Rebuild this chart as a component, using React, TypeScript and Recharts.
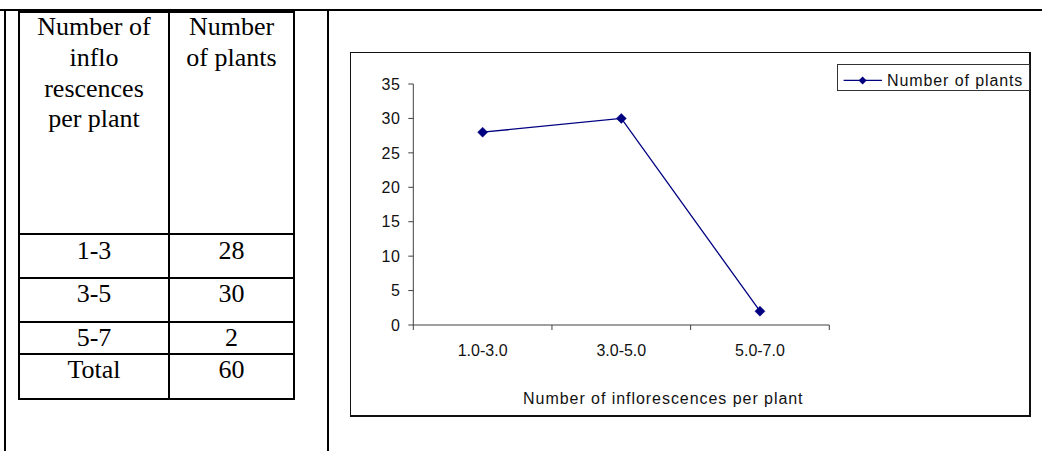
import { LineChart, Line, XAxis, YAxis, Legend } from "recharts"

// inflorescence classes as printed under the chart and in the table
const categories = ["1.0-3.0", "3.0-5.0", "5.0-7.0"]
const tableRanges = ["1-3", "3-5", "5-7"]
const plantCounts = [28, 30, 2]
const yTicks = [0, 5, 10, 15, 20, 25, 30, 35]
const xTicks = [0, 0.5, 1, 1.5, 2, 2.5, 3]

const seriesName = "Number of plants"
const xTitle = "Number of inflorescences per plant"
const headerLeft = ["Number of", "inflo", "rescences", "per plant"]
const headerRight = ["Number", "of plants"]

const NAVY = "#000080"
const AXIS = "#404040"
const SANS = "'Liberation Sans', Arial, sans-serif"
const SERIF = "'Liberation Serif', 'Times New Roman', serif"

const chartData = categories.map((label, i) => ({ pos: i + 0.5, label, count: plantCounts[i] }))
const total = plantCounts.reduce((a, b) => a + b, 0)

function diamond(cx: number, cy: number, r: number) {
  return `M${cx},${cy - r}L${cx + r},${cy}L${cx},${cy + r}L${cx - r},${cy}Z`
}

function Dot(props: any) {
  const { cx, cy, index } = props
  return <path key={`d-${index}`} d={diamond(cx, cy, 5)} fill={NAVY} stroke={NAVY} strokeWidth={0.5} />
}

// integer positions are category boundaries (tick marks), half positions carry the labels
function XTick(props: any) {
  const { x, y, payload } = props
  const v = payload.value as number
  if (Number.isInteger(v)) {
    return <line x1={x} y1={y} x2={x} y2={y + 5} stroke={AXIS} strokeWidth={1} />
  }
  return (
    <text x={x} y={y + 30.5} textAnchor="middle" fontSize={16} fontFamily={SANS} fill="#111">
      {categories[Math.floor(v)]}
    </text>
  )
}

function LegendBox() {
  return (
    <svg width={193} height={27} style={{ display: "block" }}>
      <rect x={0.5} y={0.5} width={192} height={26} fill="#fff" stroke="#333" strokeWidth={1} />
      <line x1={6.6} y1={16.4} x2={45} y2={16.4} stroke={NAVY} strokeWidth={1.3} />
      <path d={diamond(25.6, 16.4, 4)} fill={NAVY} />
      <text x={50} y={21.7} fontSize={16} fontFamily={SANS} letterSpacing={0.9} fill="#111">
        {seriesName}
      </text>
    </svg>
  )
}

function Rule({ x, y, w, h }: { x: number; y: number; w: number; h: number }) {
  return <div style={{ position: "absolute", left: x, top: y, width: w, height: h, background: "#000" }} />
}

function Cell({ x, w, top, lines }: { x: number; w: number; top: number; lines: (string | number)[] }) {
  return (
    <div
      style={{
        position: "absolute",
        left: x,
        top,
        width: w,
        textAlign: "center",
        fontFamily: SERIF,
        fontSize: 26,
        lineHeight: "30.8px",
        color: "#000",
      }}
    >
      {lines.map((l, i) => (
        <div key={i}>{l}</div>
      ))}
    </div>
  )
}

export default function App() {
  const rowTops = [235.8, 279.1, 323.1]
  return (
    <div style={{ position: "absolute", left: 0, top: 0, width: 1042, height: 451, background: "#fff", overflow: "hidden" }}>
      {/* page frame */}
      <Rule x={0} y={9} w={1042} h={2} />
      <Rule x={4} y={9} w={2} h={442} />
      <Rule x={327} y={9} w={2} h={442} />

      {/* table grid */}
      <Rule x={18} y={11} w={2} h={389} />
      <Rule x={168} y={11} w={2} h={389} />
      <Rule x={293} y={11} w={2} h={389} />
      {[11, 233, 276.5, 320.5, 352.5, 398].map((y) => (
        <Rule key={y} x={18} y={y} w={277} h={2} />
      ))}

      <Cell x={20} w={148} top={12} lines={headerLeft} />
      <Cell x={170} w={123} top={12} lines={headerRight} />
      {tableRanges.map((r, i) => (
        <Cell key={r} x={20} w={148} top={rowTops[i]} lines={[r]} />
      ))}
      {plantCounts.map((c, i) => (
        <Cell key={i} x={170} w={123} top={rowTops[i]} lines={[c]} />
      ))}
      <Cell x={20} w={148} top={354.8} lines={["Total"]} />
      <Cell x={170} w={123} top={354.8} lines={[total]} />

      {/* chart frame */}
      <div
        style={{
          position: "absolute",
          left: 350,
          top: 52,
          width: 681,
          height: 365,
          boxSizing: "border-box",
          border: "1.5px solid #111",
          borderBottomWidth: 2,
          borderRightWidth: 2,
        }}
      />
      <div style={{ position: "absolute", left: 352, top: 54 }}>
        <LineChart width={677} height={361} data={chartData} margin={{ top: 30, right: 199.7, bottom: 0, left: 0 }}>
          <XAxis
            dataKey="pos"
            type="number"
            domain={[0, 3]}
            ticks={xTicks}
            interval={0}
            height={90}
            tickSize={0}
            tickMargin={0}
            tickLine={false}
            tick={<XTick />}
            stroke={AXIS}
            label={{
              value: xTitle,
              position: "insideBottom",
              offset: 11,
              dx: 42,
              fontSize: 16,
              fontFamily: SANS,
              fill: "#111",
              letterSpacing: 0.95,
            }}
          />
          <YAxis
            type="number"
            domain={[0, 35]}
            ticks={yTicks}
            interval={0}
            width={61.3}
            tickSize={5}
            tickMargin={8}
            stroke={AXIS}
            tick={{ fontSize: 16, fontFamily: SANS, fill: "#111", letterSpacing: 0.5 }}
          />
          <Legend
            layout="horizontal"
            verticalAlign="middle"
            align="center"
            wrapperStyle={{ left: 485, top: 10, width: 193, height: 27, right: "auto", bottom: "auto" }}
            content={() => <LegendBox />}
          />
          <Line
            type="linear"
            dataKey="count"
            name={seriesName}
            stroke={NAVY}
            strokeWidth={1.3}
            dot={Dot}
            activeDot={false}
            isAnimationActive={false}
          />
        </LineChart>
      </div>
    </div>
  )
}
